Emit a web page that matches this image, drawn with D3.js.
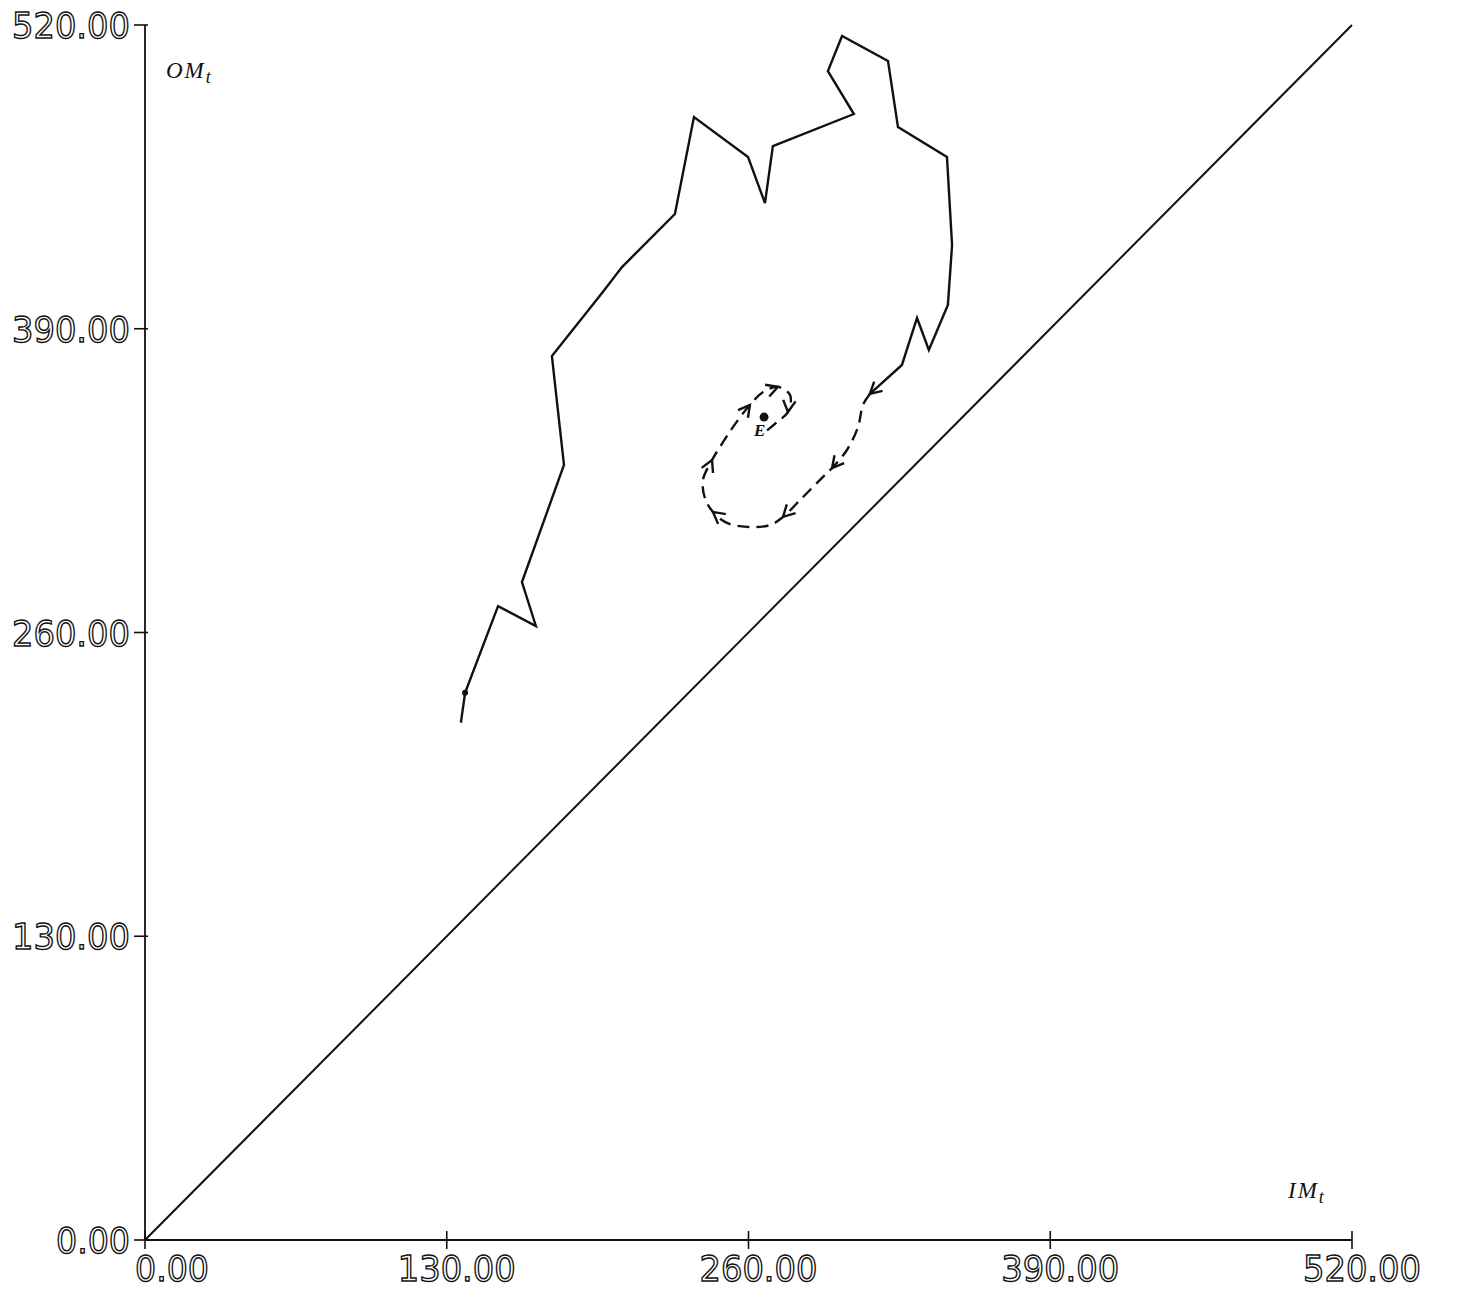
<!DOCTYPE html>
<html>
<head>
<meta charset="utf-8">
<script src="https://cdn.jsdelivr.net/npm/d3@7"></script>
<style>
  html, body { margin: 0; padding: 0; background: #fff; }
  svg { display: block; }
</style>
</head>
<body>
<svg id="chart" width="1457" height="1291"></svg>
<script>
// ---- data ----
const xTicks = [0, 130, 260, 390, 520];
const yTicks = [0, 130, 260, 390, 520];
const xTickLabels = ["0.00", "130.00", "260.00", "390.00", "520.00"];
const yTickLabels = ["0.00", "130.00", "260.00", "390.00", "520.00"];
const xLabel = "IM";
const yLabel = "OM";
const equilibriumLabel = "E";

// solid trajectory (IM_t, OM_t)
const solidIM = [136.1, 137.9, 152.1, 168.4, 162.4, 180.5, 175.3, 196.9, 205.5, 228.3, 236.5, 259.8, 267.1, 270.5, 305.4, 294.2, 300.3, 320.1, 324.4, 345.5, 347.7, 345.9, 337.7, 332.6, 326.1, 312.3];
const solidOM = [221.4, 234.2, 271.3, 262.8, 281.6, 331.7, 378.3, 405.3, 416.4, 439.1, 480.6, 463.5, 443.8, 468.2, 481.9, 500.3, 515.3, 504.6, 476.3, 463.5, 425.8, 400.2, 380.9, 394.6, 374.5, 362.1];

// dashed convergence path
const dashIM = [312.3, 309.3, 307.2, 302.4, 296.0, 290.8, 283.5, 274.9, 269.3, 259.4, 250.7, 244.7, 241.2, 240.4, 244.3, 247.7, 253.3, 260.6, 266.3, 272.7, 277.9, 277.0, 272.3, 268.0];
const dashOM = [362.1, 357.4, 348.0, 338.1, 330.4, 325.3, 318.0, 309.5, 306.0, 305.2, 306.9, 311.6, 317.6, 325.3, 333.8, 339.4, 347.9, 357.4, 362.9, 365.1, 361.6, 354.4, 350.1, 346.5];
const dashArrowIdx = [4, 7, 11, 14, 17, 19, 21];

// equilibrium point and start point
const equilibrium = [266.7, 352.2];
const startPoint = [137.9, 234.2];

// 45-degree line
const diagIM = [0, 520];
const diagOM = [0, 520];

// ---- drawing ----
const svg = d3.select("#chart");
const x = d3.scaleLinear().domain([0, 520]).range([145, 1352]);
const y = d3.scaleLinear().domain([0, 520]).range([1240, 25]);

const ink = "#111";

// axes lines
svg.append("line").attr("x1", x(0)).attr("x2", x(520)).attr("y1", y(0)).attr("y2", y(0))
  .attr("stroke", ink).attr("stroke-width", 1.8);
svg.append("line").attr("x1", x(0)).attr("x2", x(0)).attr("y1", y(0)).attr("y2", y(520))
  .attr("stroke", ink).attr("stroke-width", 1.8);

// x ticks (crossing the axis)
svg.selectAll(".xt").data(xTicks).enter().append("line")
  .attr("x1", d => x(d)).attr("x2", d => x(d))
  .attr("y1", y(0) - 9).attr("y2", y(0) + 9)
  .attr("stroke", ink).attr("stroke-width", 1.6);
// y ticks (crossing the axis)
svg.selectAll(".yt").data(yTicks).enter().append("line")
  .attr("x1", x(0) - 11).attr("x2", x(0) + 3)
  .attr("y1", d => y(d)).attr("y2", d => y(d))
  .attr("stroke", ink).attr("stroke-width", 1.6);

const tickFont = "'DejaVu Sans', sans-serif";
const labelLen = s => s.length === 4 ? 74 : 118;
// x tick labels
svg.selectAll(".xl").data(xTicks).enter().append("text")
  .attr("x", d => x(d) + (d === 0 ? -10 : 10))
  .attr("y", y(0) + 41)
  .attr("text-anchor", d => d === 0 ? "start" : "middle")
  .attr("font-family", tickFont).attr("font-size", 35)
  .attr("textLength", (d, i) => labelLen(xTickLabels[i]))
  .attr("lengthAdjust", "spacingAndGlyphs")
  .attr("fill", "#fff").attr("stroke", ink).attr("stroke-width", 1.4)
  .text((d, i) => xTickLabels[i]);
// y tick labels
svg.selectAll(".yl").data(yTicks).enter().append("text")
  .attr("x", x(0) - 15)
  .attr("y", d => y(d) + 13)
  .attr("text-anchor", "end")
  .attr("font-family", tickFont).attr("font-size", 35)
  .attr("textLength", (d, i) => labelLen(yTickLabels[i]))
  .attr("lengthAdjust", "spacingAndGlyphs")
  .attr("fill", "#fff").attr("stroke", ink).attr("stroke-width", 1.4)
  .text((d, i) => yTickLabels[i]);

// axis titles
const serif = "'Liberation Serif', 'DejaVu Serif', serif";
const yt = svg.append("text").attr("x", x(0) + 21).attr("y", y(520) + 53)
  .attr("font-family", serif).attr("font-style", "italic").attr("font-size", 23)
  .attr("letter-spacing", 2).attr("fill", ink);
yt.append("tspan").text(yLabel);
yt.append("tspan").attr("dy", 5).attr("font-size", 18).text("t");
const xt = svg.append("text").attr("x", x(520) - 64).attr("y", y(0) - 42)
  .attr("font-family", serif).attr("font-style", "italic").attr("font-size", 23)
  .attr("letter-spacing", 2).attr("fill", ink);
xt.append("tspan").text(xLabel);
xt.append("tspan").attr("dy", 5).attr("font-size", 18).text("t");

// diagonal
const line = d3.line().x(d => x(d[0])).y(d => y(d[1]));
svg.append("path").attr("d", line(d3.zip(diagIM, diagOM)))
  .attr("fill", "none").attr("stroke", ink).attr("stroke-width", 2);

// solid trajectory
const solidPts = d3.zip(solidIM, solidOM);
svg.append("path").attr("d", line(solidPts))
  .attr("fill", "none").attr("stroke", ink).attr("stroke-width", 2.4)
  .attr("stroke-linejoin", "miter");

// dashed path
const dashPts = d3.zip(dashIM, dashOM);
svg.append("path").attr("d", d3.line().curve(d3.curveCatmullRom).x(d => x(d[0])).y(d => y(d[1]))(dashPts))
  .attr("fill", "none").attr("stroke", ink).attr("stroke-width", 2.4)
  .attr("stroke-dasharray", "12,7");

// arrowheads
function arrowAt(p0, p1) {
  const ax = x(p1[0]), ay = y(p1[1]);
  const ang = Math.atan2(ay - y(p0[1]), ax - x(p0[0]));
  const L = 13, s = 0.5;
  const a1 = [ax - L * Math.cos(ang - s), ay - L * Math.sin(ang - s)];
  const a2 = [ax - L * Math.cos(ang + s), ay - L * Math.sin(ang + s)];
  return `M${a1[0]},${a1[1]}L${ax},${ay}L${a2[0]},${a2[1]}`;
}
// arrow at end of solid trajectory
svg.append("path").attr("d", arrowAt(solidPts[solidPts.length - 2], solidPts[solidPts.length - 1]))
  .attr("fill", "none").attr("stroke", ink).attr("stroke-width", 2.4);
svg.selectAll(".arr").data(dashArrowIdx).enter().append("path")
  .attr("d", i => arrowAt(dashPts[i - 1], dashPts[i]))
  .attr("fill", "none").attr("stroke", ink).attr("stroke-width", 2.4);

// equilibrium dot and label
svg.append("circle").attr("cx", x(equilibrium[0])).attr("cy", y(equilibrium[1])).attr("r", 4.5).attr("fill", ink);
svg.append("text").attr("x", x(equilibrium[0]) - 10).attr("y", y(equilibrium[1]) + 19)
  .attr("font-family", serif).attr("font-style", "italic").attr("font-weight", "bold")
  .attr("font-size", 17).attr("fill", ink)
  .text(equilibriumLabel);

// start point dot
svg.append("circle").attr("cx", x(startPoint[0])).attr("cy", y(startPoint[1])).attr("r", 3).attr("fill", ink);
</script>
</body>
</html>
